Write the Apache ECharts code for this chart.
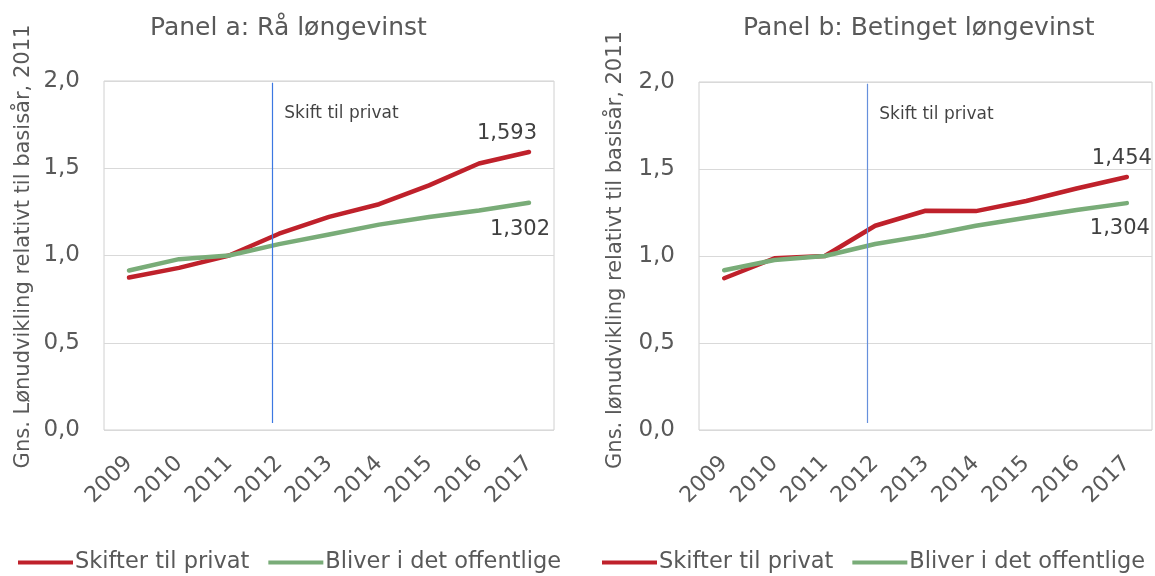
<!DOCTYPE html>
<html>
<head>
<meta charset="utf-8">
<script src="https://cdn.jsdelivr.net/npm/echarts@6/dist/echarts.min.js"></script>
<style>
html,body{margin:0;padding:0;background:#fff;}
#c{width:1155px;height:576px;}
</style>
</head>
<body>
<div id="c"></div>
<script>
// ---- Data ----
const years = ['2009','2010','2011','2012','2013','2014','2015','2016','2017'];
const panelA_private = [0.874, 0.929, 1.000, 1.125, 1.221, 1.294, 1.402, 1.527, 1.593];
const panelA_public  = [0.914, 0.979, 1.000, 1.065, 1.120, 1.177, 1.221, 1.258, 1.302];
const panelB_private = [0.872, 0.987, 1.000, 1.174, 1.260, 1.258, 1.316, 1.388, 1.454];
const panelB_public  = [0.918, 0.977, 1.000, 1.069, 1.117, 1.174, 1.220, 1.264, 1.304];
const seriesNames = ['Skifter til privat', 'Bliver i det offentlige'];
const panelTitles = ['Panel a: Rå løngevinst', 'Panel b: Betinget løngevinst'];
const yAxisNames = ['Gns. Lønudvikling relativt til basisår, 2011', 'Gns. lønudvikling relativt til basisår, 2011'];
const shiftLabel = 'Skift til privat';
const shiftPosA = 2.866;  // position of vertical marker (category index units)
const shiftPosB = 2.844;
const yTicks = {min: 0, max: 2, interval: 0.5};

const RED = '#BF212B', GREEN = '#79AC78';
const BLUE_A = '#3C78E2', BLUE_B = '#6690DC';
const FONT = 'DejaVu Sans';
const AXIS_COLOR = '#595959';

function fmt3(v){ return v.toFixed(3).replace('.', ','); }
function fmt1(v){ return v.toFixed(1).replace('.', ','); }

function withEndLabel(values, pos, dist, offset){
  const last = values.length - 1;
  return values.map((v, i) => i === last ? {
    value: v,
    label: {show: true, position: pos, distance: dist, offset: offset,
      formatter: p => fmt3(p.value), color: '#404040', fontSize: 21, fontFamily: FONT}
  } : v);
}

const grids = [
  {left: 104, top: 81, width: 450, height: 349},
  {left: 699, top: 82, width: 453, height: 348}
];

const chart = echarts.init(document.getElementById('c'));

function catAxis(g){
  return {type: 'category', gridIndex: g, data: years, boundaryGap: true,
    axisLine: {show: false}, axisTick: {show: false},
    axisLabel: {rotate: 45, color: AXIS_COLOR, fontSize: 22, fontFamily: FONT, margin: 30, interval: 0}};
}
function hiddenX(g){
  return {type: 'value', gridIndex: g, min: -0.5, max: years.length - 0.5, show: false};
}
function valAxis(g, gap, shiftUp){
  return {type: 'value', gridIndex: g, min: yTicks.min, max: yTicks.max, interval: yTicks.interval,
    axisLine: {show: false}, axisTick: {show: false},
    axisLabel: {formatter: v => fmt1(v), color: AXIS_COLOR, fontSize: 23, fontFamily: FONT, margin: 24},
    splitLine: {lineStyle: {color: '#d9d9d9', width: 1}},
    name: yAxisNames[g], nameLocation: 'middle', nameRotate: 90, nameGap: gap,
    nameTextStyle: {color: AXIS_COLOR, fontSize: 21, fontFamily: FONT, padding: [0, 0, 0, shiftUp]}};
}
function lineSeries(name, color, xi, yi, data){
  return {name: name, type: 'line', xAxisIndex: xi, yAxisIndex: yi, data: data,
    symbol: 'circle', symbolSize: 0.01, showSymbol: true,
    lineStyle: {color: color, width: 4.5, cap: 'round', join: 'round'},
    itemStyle: {color: color}, z: 3};
}
function markerSeries(xi, yi, pos, blue){
  return {type: 'scatter', xAxisIndex: xi, yAxisIndex: yi, symbolSize: 0, silent: true,
    itemStyle: {color: blue},
    data: [[pos, 1.815]],
    label: {show: true, position: 'right', distance: 12, formatter: shiftLabel,
      color: '#111111', fontSize: 17, fontFamily: FONT},
    markLine: {silent: true, symbol: 'none', label: {show: false},
      lineStyle: {color: blue, width: 1.2, type: 'solid', opacity: 1},
      emphasis: {disabled: true},
      data: [[{coord: [pos, 0.04]}, {coord: [pos, 1.99]}]]}};
}

function legendAt(left){
  return {left: left, top: 546, width: 580, itemWidth: 55, itemHeight: 4, itemGap: 19, icon: 'rect',
    data: seriesNames, textStyle: {color: AXIS_COLOR, fontSize: 22.5, fontFamily: FONT, padding: [0,0,0,-3]}};
}

const option = {
  animation: false,
  backgroundColor: '#fff',
  title: [
    {text: panelTitles[0], left: 145, top: 11, textStyle: {color: AXIS_COLOR, fontSize: 25, fontWeight: 'normal', fontFamily: FONT}},
    {text: panelTitles[1], left: 738, top: 11, textStyle: {color: AXIS_COLOR, fontSize: 25, fontWeight: 'normal', fontFamily: FONT}}
  ],
  legend: [legendAt(13), legendAt(597)],
  grid: grids.map(g => Object.assign({show: true, borderColor: '#d0d0d0', borderWidth: 1, containLabel: false}, g)),
  xAxis: [catAxis(0), hiddenX(0), catAxis(1), hiddenX(1)],
  yAxis: [valAxis(0, 70, 18), valAxis(1, 73, 12)],
  series: [
    lineSeries(seriesNames[0], RED, 0, 0, withEndLabel(panelA_private, 'top', 8, [-22, 0])),
    lineSeries(seriesNames[1], GREEN, 0, 0, withEndLabel(panelA_public, 'bottom', 16, [-9, 0])),
    markerSeries(1, 0, shiftPosA, BLUE_A),
    lineSeries(seriesNames[0], RED, 2, 1, withEndLabel(panelB_private, 'top', 8, [-5, 0])),
    lineSeries(seriesNames[1], GREEN, 2, 1, withEndLabel(panelB_public, 'bottom', 15, [-7, 0])),
    markerSeries(3, 1, shiftPosB, BLUE_B)
  ]
};
chart.setOption(option);
</script>
</body>
</html>
